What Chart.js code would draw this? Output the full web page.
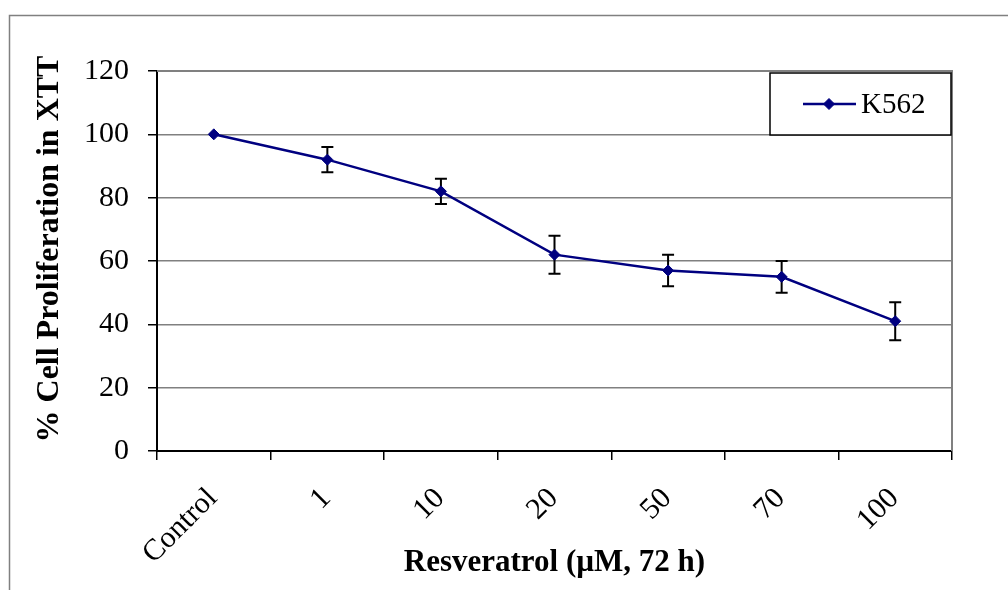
<!DOCTYPE html>
<html>
<head>
<meta charset="utf-8">
<script src="https://cdn.jsdelivr.net/npm/chart.js"></script>
<style>
html, body { margin: 0; padding: 0; background: #fff; }
</style>
</head>
<body>
<canvas id="grafico" width="1008" height="590"></canvas>
<script>
var categorias = ["Control", "1", "10", "20", "50", "70", "100"];
var valores = [100, 92, 82, 62, 57, 55, 41];
var erros = [0, 4, 4, 6, 5, 5, 6];
var ticksY = [0, 20, 40, 60, 80, 100, 120];
var serie = "K562";
var tituloX = "Resveratrol (µM, 72 h)";
var tituloY = "% Cell Proliferation in XTT";

var fonte = "'Liberation Serif', 'Times New Roman', serif";
var corSerie = "#000080";

// moldura externa (so topo e esquerda aparecem)
var pluginMoldura = {
  id: "moldura",
  beforeDraw: function (chart) {
    var ctx = chart.ctx;
    ctx.save();
    ctx.fillStyle = "#fff";
    ctx.fillRect(0, 0, chart.width, chart.height);
    ctx.strokeStyle = "#808080";
    ctx.lineWidth = 1.5;
    ctx.beginPath();
    ctx.moveTo(9.5, chart.height);
    ctx.lineTo(9.5, 15.5);
    ctx.lineTo(chart.width, 15.5);
    ctx.stroke();
    ctx.restore();
  },
  beforeDatasetsDraw: function (chart) {
    var ctx = chart.ctx, a = chart.chartArea;
    ctx.save();
    ctx.strokeStyle = "#808080";
    ctx.lineWidth = 2;
    ctx.beginPath();
    ctx.moveTo(a.left, a.top);
    ctx.lineTo(a.right, a.top);
    ctx.lineTo(a.right, a.bottom);
    ctx.stroke();
    ctx.restore();
  }
};

// barras de erro
var pluginErros = {
  id: "erros",
  beforeDatasetsDraw: function (chart) {
    var ctx = chart.ctx;
    var escalaY = chart.scales.y;
    var meta = chart.getDatasetMeta(0);
    ctx.save();
    ctx.strokeStyle = "#000";
    ctx.lineWidth = 2;
    for (var i = 0; i < meta.data.length; i++) {
      if (!erros[i]) continue;
      var x = meta.data[i].x;
      var yAlto = escalaY.getPixelForValue(valores[i] + erros[i]);
      var yBaixo = escalaY.getPixelForValue(valores[i] - erros[i]);
      ctx.beginPath();
      ctx.moveTo(x, yAlto);
      ctx.lineTo(x, yBaixo);
      ctx.moveTo(x - 6, yAlto);
      ctx.lineTo(x + 6, yAlto);
      ctx.moveTo(x - 6, yBaixo);
      ctx.lineTo(x + 6, yBaixo);
      ctx.stroke();
    }
    ctx.restore();
  }
};

// legenda dentro da area do grafico
var pluginLegenda = {
  id: "legendaCaixa",
  afterDraw: function (chart) {
    var ctx = chart.ctx, a = chart.chartArea;
    var ds = chart.data.datasets[0];
    var w = 181, h = 62;
    var x0 = a.right - w - 1, y0 = a.top + 2;
    var yMeio = y0 + h / 2;
    ctx.save();
    ctx.fillStyle = "#fff";
    ctx.fillRect(x0, y0, w, h);
    ctx.strokeStyle = "#000";
    ctx.lineWidth = 1.5;
    ctx.strokeRect(x0, y0, w, h);
    ctx.strokeStyle = ds.borderColor;
    ctx.lineWidth = 2.5;
    ctx.beginPath();
    ctx.moveTo(x0 + 33, yMeio);
    ctx.lineTo(x0 + 86, yMeio);
    ctx.stroke();
    ctx.fillStyle = ds.pointBackgroundColor;
    ctx.strokeStyle = ds.pointBorderColor;
    ctx.lineWidth = 1;
    Chart.helpers.drawPoint(ctx, { pointStyle: "rectRot", radius: 5.5, rotation: 0, borderWidth: 1 }, x0 + 59, yMeio);
    ctx.fillStyle = "#000";
    ctx.font = "29px " + fonte;
    ctx.textBaseline = "middle";
    ctx.textAlign = "left";
    ctx.fillText(ds.label, x0 + 91, yMeio + 1);
    ctx.restore();
  }
};

var ctx = document.getElementById("grafico").getContext("2d");
window.grafico = new Chart(ctx, {
  type: "line",
  data: {
    labels: categorias,
    datasets: [{
      label: serie,
      data: valores,
      borderColor: corSerie,
      borderWidth: 2.5,
      tension: 0,
      pointStyle: "rectRot",
      pointRadius: 5.5,
      pointBackgroundColor: corSerie,
      pointBorderColor: corSerie,
      pointBorderWidth: 1
    }]
  },
  options: {
    responsive: false,
    animation: false,
    layout: { padding: { left: 0, top: 71, right: 56, bottom: 0 } },
    plugins: {
      legend: { display: false },
      tooltip: { enabled: false }
    },
    scales: {
      x: {
        offset: true,
        grid: { offset: true, drawOnChartArea: false, drawTicks: true, tickLength: 9, color: "#000", lineWidth: 1.5 },
        border: { color: "#000", width: 2 },
        ticks: {
          autoSkip: false, minRotation: 45, maxRotation: 45,
          padding: 21, labelOffset: -1,
          color: "#000", font: { family: fonte, size: 30 }
        },
        title: {
          display: true, text: tituloX, color: "#000",
          font: { family: fonte, size: 31, weight: "bold" },
          padding: { top: 0, bottom: 8 }
        },
        afterFit: function (s) { s.height = 139; }
      },
      y: {
        min: 0,
        max: 120,
        afterBuildTicks: function (s) {
          s.ticks = ticksY.map(function (v) { return { value: v }; });
        },
        grid: { color: "#808080", lineWidth: 1.5, drawTicks: true, tickLength: 9, tickColor: "#000", tickWidth: 1.5 },
        border: { color: "#000", width: 2 },
        ticks: { padding: 19, color: "#000", font: { family: fonte, size: 30 } },
        title: {
          display: true, text: "   " + tituloY, color: "#000",
          font: { family: fonte, size: 32, weight: "bold" },
          padding: { top: 31, bottom: 0 }
        },
        afterFit: function (s) { s.width = 157; }
      }
    }
  },
  plugins: [pluginMoldura, pluginErros, pluginLegenda]
});
</script>
</body>
</html>
